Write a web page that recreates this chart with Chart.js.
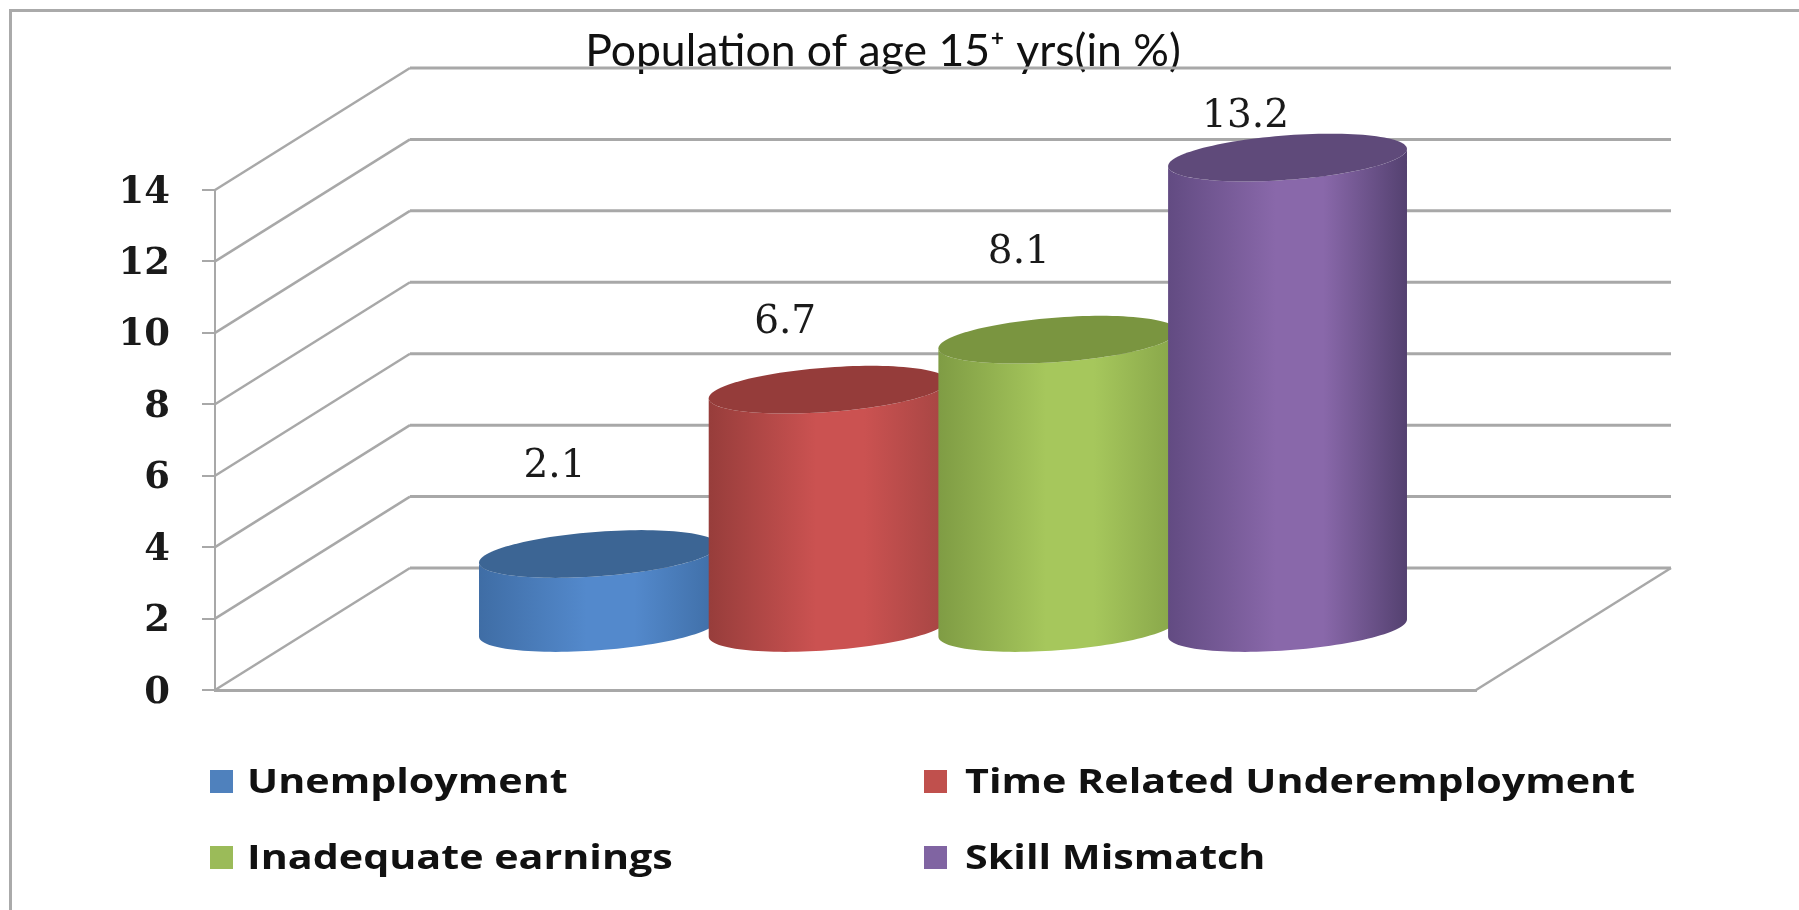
<!DOCTYPE html>
<html lang="en">

<head>
    <meta charset="UTF-8">
    <title>Population of age 15+ yrs</title>
    <script src="https://cdn.jsdelivr.net/npm/chart.js"></script>
    <style>
        html, body {
            margin: 0;
            background: #fff;
            overflow: hidden;
        }

        #frame {
            position: absolute;
            left: 9px;
            top: 9px;
            right: 0;
            bottom: 0;
            border-left: 3px solid #aaa;
            border-top: 3px solid #aaa;
            filter: blur(0.5px);
        }

        #myChart {
            position: absolute;
            left: 0;
            top: 0;
            filter: blur(0.6px);
        }
    </style>
</head>

<body>
    <div id="frame"></div>
    <canvas id="myChart" width="1799" height="910"></canvas>
    <script>
        const titleText = "Population of age 15\u207A yrs(in %)";
        const categories = ["Population"];
        const seriesNames = ["Unemployment", "Time Related Underemployment", "Inadequate earnings", "Skill Mismatch"];
        const seriesValues = [2.1, 6.7, 8.1, 13.2];
        const yTicks = [0, 2, 4, 6, 8, 10, 12, 14];

        const legendColors = ["#4f81bd", "#c0504d", "#9bbb59", "#8064a2"];
        // edge, middle, far edge, lid
        const bodyColors = [
            ["#3f6da5", "#5389cc", "#3f6ea6", "#3c6594"],
            ["#973d3b", "#cb5251", "#a54543", "#953c3a"],
            ["#7f9c44", "#a6c75c", "#87a549", "#7a9540"],
            ["#624b82", "#8968aa", "#544170", "#5f4a7a"]
        ];
        // hand placed in the original, so offset from the lid centre
        const labelShift = [[-44, -87], [-43, -67], [-39, -87], [-42, -41]];

        const gridColor = "#a8a8a8";
        const depthX = 195;
        const depthY = 122;

        function drawWalls(chart) {
            const ctx = chart.ctx;
            const y = chart.scales.y;
            const { left, right } = chart.chartArea;
            ctx.save();
            ctx.strokeStyle = gridColor;
            yTicks.forEach(v => {
                const yp = y.getPixelForValue(v);
                ctx.lineWidth = 2.5;
                ctx.beginPath();
                ctx.moveTo(left, yp);
                ctx.lineTo(left + depthX, yp - depthY);
                ctx.stroke();
                ctx.lineWidth = 3;
                ctx.beginPath();
                ctx.moveTo(left + depthX, yp - depthY);
                ctx.lineTo(right + depthX, yp - depthY);
                ctx.stroke();
                if (v === 0) {
                    ctx.lineWidth = 2.5;
                    ctx.beginPath();
                    ctx.moveTo(right + depthX, yp - depthY);
                    ctx.lineTo(right, yp);
                    ctx.stroke();
                }
            });
            ctx.restore();
        }

        function drawCylinder(ctx, bar, colors) {
            // bars stand half way back on the floor
            const cx = bar.x + depthX / 2;
            const topY = bar.y - depthY / 2;
            const baseY = bar.base - depthY / 2;
            const w = bar.width / 2;
            const a = 0.933 * w, bx = 0.36 * w, by = -0.2 * w;
            const t0 = Math.atan2(bx, a);
            const point = (t, yc) => [cx + a * Math.cos(t) + bx * Math.sin(t), yc + by * Math.sin(t)];

            const grad = ctx.createLinearGradient(cx - w, 0, cx + w, 0);
            grad.addColorStop(0, colors[0]);
            grad.addColorStop(0.45, colors[1]);
            grad.addColorStop(0.65, colors[1]);
            grad.addColorStop(1, colors[2]);

            ctx.beginPath();
            for (let i = 0; i <= 60; i++) {
                const p = point(t0 - Math.PI * i / 60, baseY);
                ctx.lineTo(p[0], p[1]);
            }
            for (let i = 0; i <= 60; i++) {
                const p = point(t0 - Math.PI + Math.PI * i / 60, topY);
                ctx.lineTo(p[0], p[1]);
            }
            ctx.closePath();
            ctx.fillStyle = grad;
            ctx.fill();

            ctx.beginPath();
            for (let i = 0; i <= 120; i++) {
                const p = point(2 * Math.PI * i / 120, topY);
                ctx.lineTo(p[0], p[1]);
            }
            ctx.closePath();
            ctx.fillStyle = colors[3];
            ctx.fill();
        }

        function drawLegend(chart) {
            const ctx = chart.ctx;
            const items = chart.data.datasets;
            const colX = [210, 924];
            const textGap = [37, 41];
            const rowY = [781, 857];
            ctx.save();
            ctx.font = "bold 34px 'Open Sans'";
            ctx.textBaseline = "middle";
            ctx.textAlign = "left";
            items.forEach((ds, i) => {
                const x = colX[i % 2];
                const y = rowY[Math.floor(i / 2)];
                ctx.fillStyle = ds.backgroundColor;
                ctx.fillRect(x, y - 11, 23, 23);
                ctx.fillStyle = "#111";
                ctx.save();
                ctx.translate(x + textGap[i % 2], y + 2);
                ctx.scale(1.213, 1);
                ctx.fillText(ds.label, 0, 0);
                ctx.restore();
            });
            ctx.restore();
        }

        const cylinderPlugin = {
            id: "cylinders",
            afterLayout(chart) {
                // title sits off centre in the original
                chart.titleBlock.left = 0;
                chart.titleBlock.right = 1766;
            },
            beforeDraw(chart) {
                // tick numbers sit a little under their tick marks
                chart.scales.y.getLabelItems().forEach(item => { item.textOffset += 3; });
            },
            beforeDatasetsDraw(chart) {
                drawWalls(chart);
                chart.data.datasets.forEach((ds, i) => {
                    const bar = chart.getDatasetMeta(i).data[0];
                    drawCylinder(chart.ctx, bar, bodyColors[i]);
                });
            },
            beforeDatasetDraw() {
                return false; // flat bars replaced by the cylinders
            },
            afterDatasetsDraw(chart) {
                const ctx = chart.ctx;
                ctx.save();
                ctx.font = "39px 'DejaVu Serif'";
                ctx.fillStyle = "#1a1a1a";
                ctx.textAlign = "center";
                ctx.textBaseline = "middle";
                chart.data.datasets.forEach((ds, i) => {
                    const bar = chart.getDatasetMeta(i).data[0];
                    ctx.fillText(ds.data[0].toFixed(1),
                        bar.x + depthX / 2 + labelShift[i][0],
                        bar.y - depthY / 2 + labelShift[i][1]);
                });
                ctx.restore();
                drawLegend(chart);
            }
        };

        new Chart(document.getElementById("myChart"), {
            type: "bar",
            plugins: [cylinderPlugin],
            data: {
                labels: categories,
                datasets: seriesNames.map((name, i) => ({
                    label: name,
                    data: [seriesValues[i]],
                    backgroundColor: legendColors[i]
                }))
            },
            options: {
                responsive: false,
                animation: false,
                events: [],
                layout: { padding: { left: 0, right: 323, top: 0, bottom: 220 } },
                datasets: { bar: { categoryPercentage: 0.7286, barPercentage: 1.04 } },
                plugins: {
                    legend: { display: false },
                    tooltip: { enabled: false },
                    title: {
                        display: true,
                        text: titleText,
                        color: "#111",
                        font: { family: "Lato", size: 44.5, weight: "normal" },
                        padding: { top: 25, bottom: 111.6 }
                    }
                },
                scales: {
                    x: {
                        afterFit(scale) { scale.height = 0; },
                        ticks: { display: false },
                        grid: { display: false },
                        border: { color: gridColor, width: 3 }
                    },
                    y: {
                        min: 0,
                        max: 14,
                        afterFit(scale) { scale.width = 215; },
                        afterBuildTicks(scale) { scale.ticks = yTicks.map(v => ({ value: v })); },
                        ticks: {
                            color: "#1a1a1a",
                            padding: 32,
                            font: { family: "DejaVu Serif", size: 37, weight: "bold" }
                        },
                        grid: { color: gridColor, drawOnChartArea: false, tickLength: 13, lineWidth: 2 },
                        border: { color: gridColor, width: 2 }
                    }
                }
            }
        });
    </script>
</body>

</html>
